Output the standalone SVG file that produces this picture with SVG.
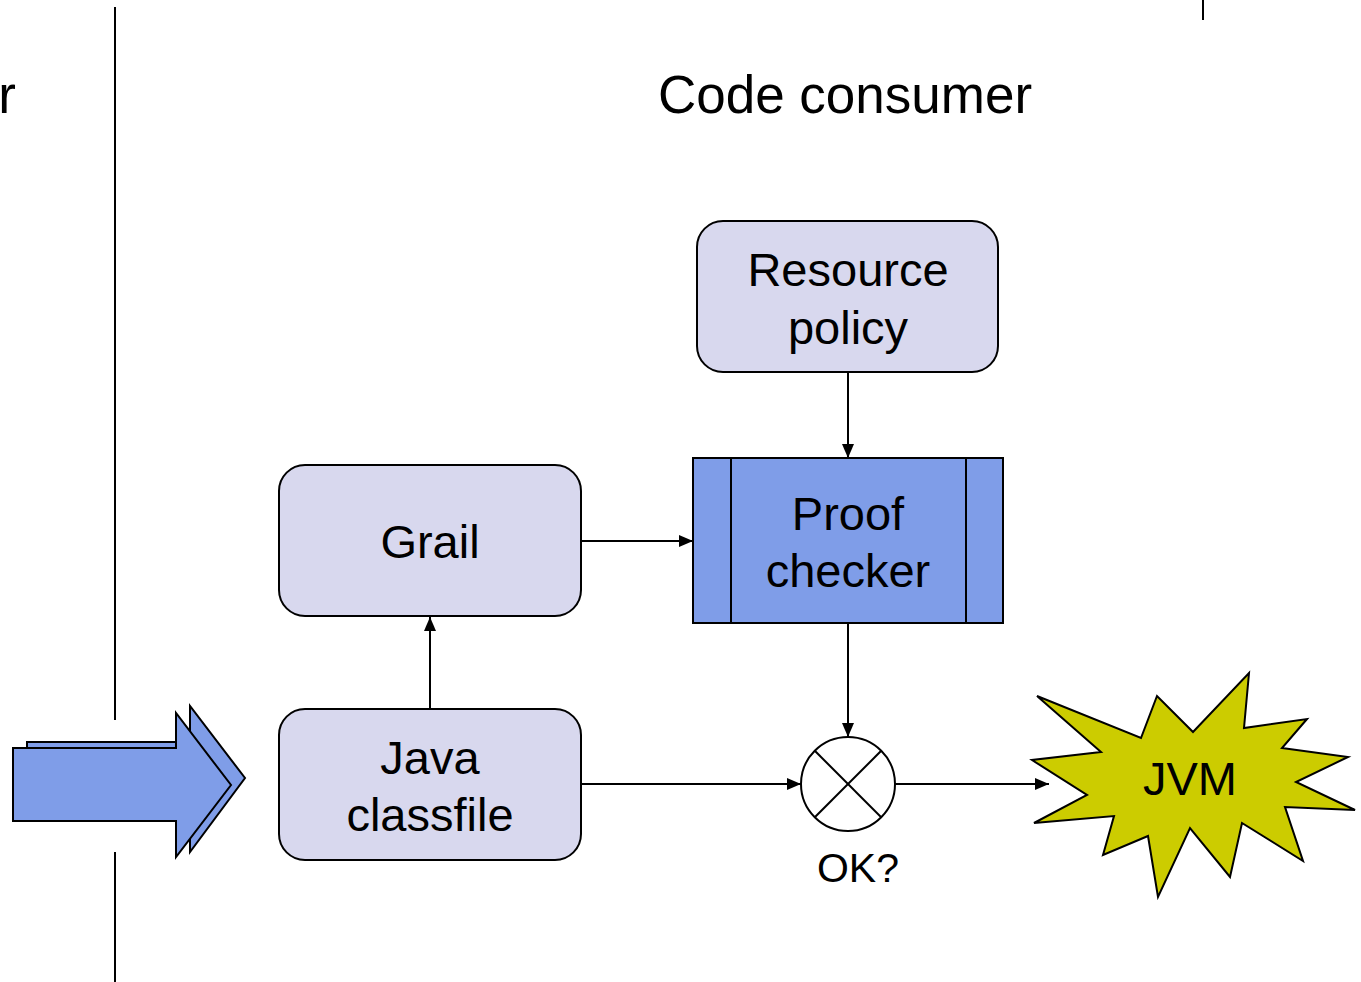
<svg xmlns="http://www.w3.org/2000/svg" width="1361" height="982" viewBox="0 0 1361 982">
<style>
text{font-family:"Liberation Sans",Arial,sans-serif;fill:#000;text-anchor:middle}
.t{font-size:47px}
.box{fill:#d8d8ee;stroke:#000;stroke-width:2}
.blue{fill:#7f9de8;stroke:#000;stroke-width:2}
.ln{stroke:#000;stroke-width:2;fill:none}
.c{stroke:#000;stroke-width:2;fill:none;marker-end:url(#ah)}
</style>
<defs>
<marker id="ah" markerWidth="14" markerHeight="12" refX="14" refY="6" orient="auto" markerUnits="userSpaceOnUse">
<path d="M0,0 L14,6 L0,12 Z" fill="#000"/>
</marker>
</defs>
<rect width="1361" height="982" fill="#fff"/>
<g id="dividers">
<line class="ln" x1="115" y1="7" x2="115" y2="720"/>
<line class="ln" x1="115" y1="852" x2="115" y2="982"/>
<line class="ln" x1="1203" y1="0" x2="1203" y2="20"/>
</g>
<text x="16" y="113" font-size="53" style="text-anchor:end">r</text>
<text x="845" y="113" font-size="53">Code consumer</text>
<g id="input-arrow">
<path class="blue" d="M27,742 L190,742 L190,706 L245,778 L190,852 L190,815 L27,815 Z"/>
<path class="blue" d="M13,748 L176,748 L176,713 L231,785 L176,857 L176,821 L13,821 Z"/>
</g>
<g id="connectors">
<line class="c" x1="848" y1="373" x2="848" y2="458"/>
<line class="c" x1="581" y1="541" x2="693" y2="541"/>
<line class="c" x1="430" y1="709" x2="430" y2="617"/>
<line class="c" x1="581" y1="784" x2="801" y2="784"/>
<line class="c" x1="848" y1="623" x2="848" y2="737"/>
<line class="c" x1="895" y1="784" x2="1049" y2="784"/>
</g>
<g id="resource-policy">
<rect class="box" x="697" y="221" width="301" height="151" rx="26"/>
<text class="t" x="848" y="286">Resource</text>
<text class="t" x="848" y="344">policy</text>
</g>
<g id="grail">
<rect class="box" x="279" y="465" width="302" height="151" rx="26"/>
<text class="t" x="430" y="558">Grail</text>
</g>
<g id="java-classfile">
<rect class="box" x="279" y="709" width="302" height="151" rx="26"/>
<text class="t" x="430" y="774">Java</text>
<text class="t" x="430" y="831">classfile</text>
</g>
<g id="proof-checker">
<rect class="blue" x="693" y="458" width="310" height="165"/>
<line class="ln" x1="731" y1="458" x2="731" y2="623"/>
<line class="ln" x1="966" y1="458" x2="966" y2="623"/>
<text class="t" x="848" y="530">Proof</text>
<text class="t" x="848" y="587">checker</text>
</g>
<g id="ok">
<circle cx="848" cy="784" r="47" fill="#fff" stroke="#000" stroke-width="2"/>
<line class="ln" x1="814.8" y1="750.8" x2="881.2" y2="817.2"/>
<line class="ln" x1="881.2" y1="750.8" x2="814.8" y2="817.2"/>
<text x="858" y="882" font-size="41">OK?</text>
</g>
<g id="jvm">
<path d="M1037,696 L1141,738 L1157,696 L1193,732 L1249,673 L1244,728 L1307,719 L1282,748 L1348,757 L1296,782 L1355,810 L1285,807 L1303,861 L1242,823 L1230,877 L1190,828 L1158,897 L1148,836 L1103,855 L1114,816 L1034,823 L1087,795 L1032,760 L1101,752 Z" fill="#cccc00" stroke="#000" stroke-width="2" stroke-linejoin="miter"/>
<text class="t" x="1190" y="795">JVM</text>
</g>
</svg>
